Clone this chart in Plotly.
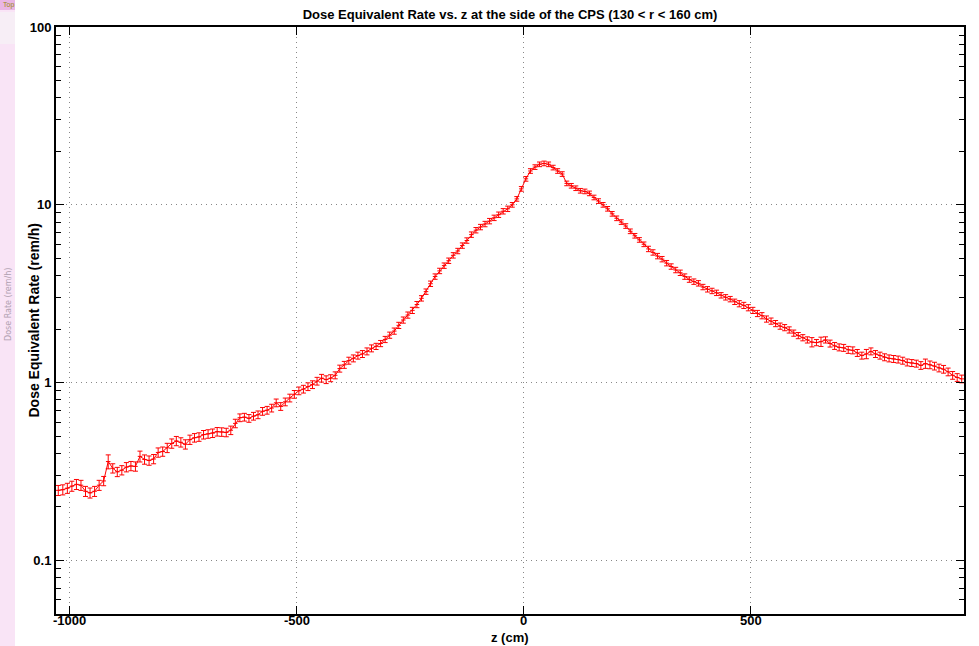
import numpy as np
import plotly.graph_objects as go

# bin centres (cm), 10 cm bins from -1030 to 970
z_centres = np.arange(-1025, 975, 10)

dose_rate = [
    0.248, 0.250, 0.255, 0.262, 0.268, 0.265, 0.245, 0.240, 0.245, 0.265,   # -1025..-935
    0.280, 0.360, 0.330, 0.315, 0.322, 0.335, 0.340, 0.338, 0.385, 0.370,   # -925..-835
    0.365, 0.372, 0.405, 0.410, 0.430, 0.455, 0.470, 0.462, 0.450, 0.478,   # -825..-735
    0.490, 0.495, 0.510, 0.515, 0.520, 0.530, 0.528, 0.525, 0.540, 0.590,   # -725..-635
    0.635, 0.640, 0.630, 0.648, 0.660, 0.690, 0.700, 0.720, 0.770, 0.735,   # -625..-535
    0.780, 0.820, 0.860, 0.900, 0.920, 0.950, 0.975, 1.02, 1.06, 1.04,      # -525..-435
    1.06, 1.10, 1.20, 1.26, 1.33, 1.37, 1.42, 1.45, 1.50, 1.56,             # -425..-335
    1.60, 1.66, 1.75, 1.85, 1.95, 2.10, 2.25, 2.40, 2.55, 2.75,             # -325..-235
    2.98, 3.25, 3.60, 3.95, 4.25, 4.55, 4.85, 5.20, 5.50, 5.90,             # -225..-135
    6.30, 6.80, 7.20, 7.50, 7.80, 8.10, 8.45, 8.80, 9.20, 9.50,             # -125..-35
    10.0, 10.8, 12.3, 14.0, 15.5, 16.3, 16.9, 17.1, 16.9, 16.2,             # -25..65
    15.5, 14.9, 13.2, 12.8, 12.4, 12.0, 11.9, 11.6, 11.0, 10.5,             # 75..165
    10.0, 9.5, 8.9, 8.4, 8.0, 7.6, 7.1, 6.7, 6.35, 6.0,                     # 175..265
    5.65, 5.40, 5.15, 4.95, 4.70, 4.50, 4.30, 4.15, 3.95, 3.80,             # 275..365
    3.70, 3.62, 3.45, 3.35, 3.28, 3.20, 3.10, 3.02, 2.95, 2.85,             # 375..465
    2.78, 2.72, 2.64, 2.55, 2.45, 2.38, 2.28, 2.22, 2.15, 2.08,             # 475..565
    2.04, 1.98, 1.90, 1.84, 1.79, 1.74, 1.69, 1.68, 1.70, 1.74,             # 575..665
    1.66, 1.61, 1.58, 1.57, 1.53, 1.52, 1.47, 1.42, 1.45, 1.50,             # 675..765
    1.45, 1.42, 1.39, 1.37, 1.36, 1.35, 1.33, 1.30, 1.29, 1.28,             # 775..865
    1.25, 1.28, 1.26, 1.24, 1.21, 1.19, 1.15, 1.10, 1.07, 1.05,             # 875..965
]

# relative statistical uncertainty, read per 100 cm block (larger where the rate is low)
rel_err_per_block = [0.065, 0.06, 0.06, 0.055, 0.05, 0.05, 0.045, 0.04, 0.035, 0.035,
                     0.03, 0.03, 0.03, 0.035, 0.035, 0.04, 0.04, 0.045, 0.045, 0.05]
# a few bins with visibly larger bars
rel_err_overrides = {11: 0.09, 18: 0.07, 166: 0.06, 168: 0.06, 178: 0.06, 191: 0.06}

x_tick_vals = [-1000, -500, 0, 500]
x_tick_text = ["-1000", "-500", "0", "500"]
y_tick_vals = [0.1, 1, 10, 100]
y_tick_text = ["0.1", "1", "10", "100"]
y_minor_vals = [m * d for d in (0.01, 0.1, 1, 10) for m in range(2, 10)]

title_text = "Dose Equivalent Rate vs. z at the side of the CPS (130 < r < 160 cm)"
x_title = "z (cm)"
y_title = "Dose Equivalent Rate (rem/h)"

assert len(dose_rate) == len(z_centres)
rel_err = [rel_err_overrides.get(i, rel_err_per_block[i // 10]) for i in range(len(dose_rate))]
err_abs = [v * r for v, r in zip(dose_rate, rel_err)]
half_bin = [5] * len(dose_rate)

FONT = "Liberation Sans, Arial, Helvetica, sans-serif"
W, H = 979, 646
L, R, T, B = 56, 15, 27, 32
pw, ph = W - L - R, H - T - B

fig = go.Figure()
fig.add_trace(go.Scatter(
    x=z_centres, y=dose_rate, mode="lines",
    line=dict(color="#ff0000", width=1),
    error_y=dict(type="data", array=err_abs, visible=True, color="#ff0000", thickness=1, width=2.5),
    error_x=dict(type="data", array=half_bin, visible=True, color="#ff0000", thickness=1, width=0),
    showlegend=False, hoverinfo="x+y",
))

axis_common = dict(
    showline=True, linecolor="black", linewidth=2, mirror="ticks",
    ticks="inside", tickcolor="black", tickwidth=1,
    showgrid=True, gridcolor="#888888", griddash="1px,4px", gridwidth=1,
    zeroline=False, automargin=False,
    tickfont=dict(family=FONT, size=13, color="black", weight="bold"),
)

fig.update_xaxes(
    range=[-1030, 970], tickvals=x_tick_vals, ticktext=x_tick_text, ticklen=8,
    showticklabels=False,
    **axis_common,
)
fig.update_yaxes(
    type="log", range=[np.log10(0.05), 2], tickvals=y_tick_vals, ticktext=y_tick_text, ticklen=8,
    minor=dict(tickvals=y_minor_vals, ticks="inside", ticklen=5, tickcolor="black", tickwidth=1, showgrid=False),
    **axis_common,
)

# left-hand strip of a neighbouring window visible in the screenshot
shapes = [
    dict(type="rect", xref="paper", yref="paper",
         x0=-L / pw, x1=(15 - L) / pw, y0=-B / ph, y1=1 + T / ph,
         fillcolor="#f9e4f6", line=dict(width=0), layer="below"),
    dict(type="rect", xref="paper", yref="paper",
         x0=-L / pw, x1=(15 - L) / pw, y0=1 + (T - 10) / ph, y1=1 + T / ph,
         fillcolor="#e9b6e4", line=dict(width=0)),
    dict(type="rect", xref="paper", yref="paper",
         x0=-L / pw, x1=(15 - L) / pw, y0=1 + (T - 44) / ph, y1=1 + (T - 12) / ph,
         fillcolor="#f7eef6", line=dict(width=0)),
]

annotations = [
    dict(text="Top", xref="paper", yref="paper", x=(1 - L) / pw, y=1 + (T - 5) / ph,
         xanchor="left", yanchor="middle", showarrow=False,
         font=dict(family=FONT, size=7, color="#9a8a10")),
    dict(text="Dose Rate (rem/h)", xref="paper", yref="paper", x=(8 - L) / pw, y=(614 - 305) / ph,
         textangle=-90, xanchor="center", yanchor="middle", showarrow=False,
         font=dict(family="DejaVu Sans", size=8, color="#b0a0b0")),
    dict(text="<b>" + y_title + "</b>", xref="paper", yref="paper", x=(33 - L) / pw, y=0.5,
         textangle=-90, xanchor="center", yanchor="middle", showarrow=False,
         font=dict(family=FONT, size=14, color="black")),
    dict(text="<b>" + x_title + "</b>", xref="paper", yref="paper", x=0.5, y=(614 - 637) / ph,
         xanchor="center", yanchor="middle", showarrow=False,
         font=dict(family=FONT, size=13, color="black")),
]
# x tick labels placed just below the axis, as in the reference
for v, t in zip(x_tick_vals, x_tick_text):
    annotations.append(dict(text="<b>" + t + "</b>", xref="x", yref="paper", x=v, y=(614 - 620.5) / ph,
                            xanchor="center", yanchor="middle", showarrow=False,
                            font=dict(family=FONT, size=13, color="black")))

fig.update_layout(
    width=W, height=H,
    margin=dict(l=L, r=R, t=T, b=B, pad=0),
    paper_bgcolor="white", plot_bgcolor="white",
    title=dict(text="<b>" + title_text + "</b>", x=(L + pw / 2) / W, xanchor="center",
               y=1 - 14 / H, yanchor="middle",
               font=dict(family=FONT, size=13, color="black")),
    shapes=shapes, annotations=annotations,
)

fig.write_html("out.html")
